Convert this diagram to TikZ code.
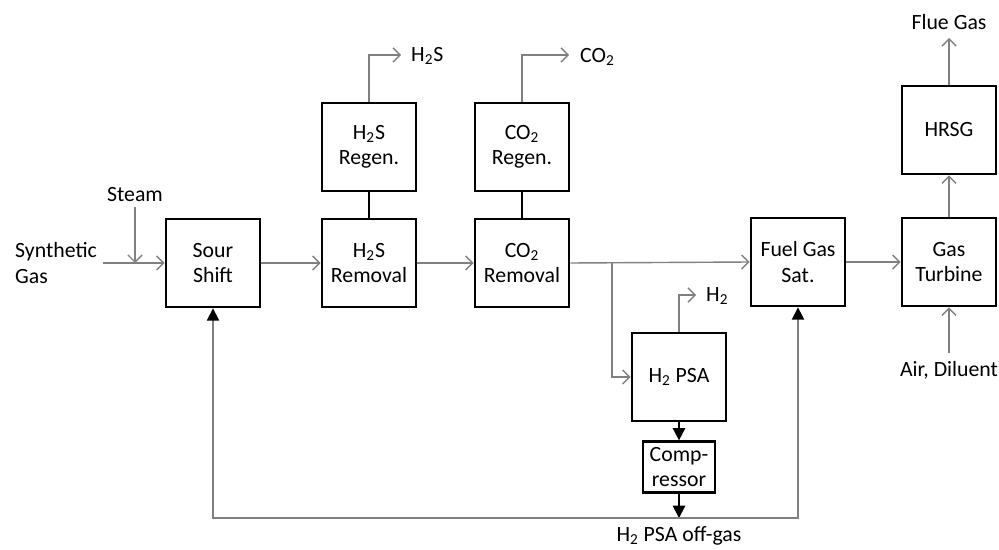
\documentclass[tikz,border=0pt]{standalone}
\usepackage{fontspec}
\setmainfont{Carlito}
\usetikzlibrary{arrows.meta, calc}

\begin{document}
\begin{tikzpicture}[x=0.02cm, y=-0.02cm, font=\fontsize{12.4}{14.5}\selectfont,
    unit/.style={draw=black, line width=1.6pt, minimum width=1.88cm, minimum height=1.76cm, align=center, inner sep=1pt},
    smallunit/.style={draw=black, line width=1.3pt, minimum width=1.44cm, minimum height=1.02cm, align=center, inner sep=1pt},
    flow/.style={draw=black!50, line width=0.8pt, -{Straight Barb[length=4pt, width=8pt]}},
    recyc/.style={draw=black!50, line width=0.8pt, -{Triangle[length=7pt, width=7pt, color=black]}},
    feed/.style={draw=black, line width=1.1pt, -{Triangle[length=7pt, width=7pt]}},
    link/.style={draw=black, line width=1.6pt}]
    \useasboundingbox (0,0) rectangle (999,550);

    % Units
    \node[unit] (sour)   at (213,263) {Sour\\Shift};
    \node[unit] (h2srem) at (369,263) {H\textsubscript{2}S\\Removal};
    \node[unit] (h2sreg) at (369,147) {H\textsubscript{2}S\\Regen.};
    \node[unit] (co2rem) at (522,263) {CO\textsubscript{2}\\Removal};
    \node[unit] (co2reg) at (522,147) {CO\textsubscript{2}\\Regen.};
    \node[unit] (fgs)    at (798,262) {Fuel Gas\\Sat.};
    \node[unit] (gt)     at (949,262) {Gas\\Turbine};
    \node[unit] (hrsg)   at (949,130) {HRSG};
    \node[unit] (psa)    at (679,377) {H\textsubscript{2} PSA};
    \node[smallunit] (comp) at (679,467) {Comp-\\ressor};

    % Stream labels
    \node[align=left, anchor=west] (synlbl) at (9,263) {Synthetic\\Gas};
    \node (steamlbl) at (135,195) {Steam};
    \node[anchor=west] (h2slbl) at (405,56) {H\textsubscript{2}S};
    \node[anchor=west] (co2lbl) at (574,57) {CO\textsubscript{2}};
    \node[anchor=west] (h2lbl) at (700,296) {H\textsubscript{2}};
    \node (fluelbl) at (949,22) {Flue Gas};
    \node (airlbl) at (949,370) {Air, Diluent};
    \node[inner sep=0pt] (offlbl) at (679,536) {H\textsubscript{2} PSA off-gas};

    % Free ends
    \coordinate (syn) at (103,263);
    \coordinate (steam) at (135,207);
    \coordinate (h2sout) at (401,55);
    \coordinate (co2out) at (569,55);
    \coordinate (h2out) at (696,295);
    \coordinate (split) at (612,263);
    \coordinate (flue) at (949,38);
    \coordinate (air) at (949,353);
    \coordinate (off) at (679,518);

    % Main line
    \draw[flow] (syn) -- (sour);
    \draw[flow] (steam) -- (steam |- sour);
    \draw[flow] (sour) -- (h2srem);
    \draw[flow] (h2srem) -- (co2rem);
    \draw[flow] (co2rem.east) -- (fgs.west);
    \draw[flow] (split) |- (psa.west);
    \draw[flow] (fgs) -- (gt);
    \draw[flow] (gt) -- (hrsg);
    \draw[flow] (hrsg) -- (flue);
    \draw[flow] (air) -- (gt);

    % Regenerators
    \draw[link] (h2sreg) -- (h2srem);
    \draw[link] (co2reg) -- (co2rem);
    \draw[flow] (h2sreg.north) |- (h2sout);
    \draw[flow] (co2reg.north) |- (co2out);
    \draw[flow] (psa.north) |- (h2out);

    % Off-gas recycle
    \draw[feed] (psa) -- (comp);
    \draw[feed] (comp) -- (off);
    \draw[recyc] (off) -| (sour.south);
    \draw[recyc] (off) -| (fgs.south);
\end{tikzpicture}
\end{document}
